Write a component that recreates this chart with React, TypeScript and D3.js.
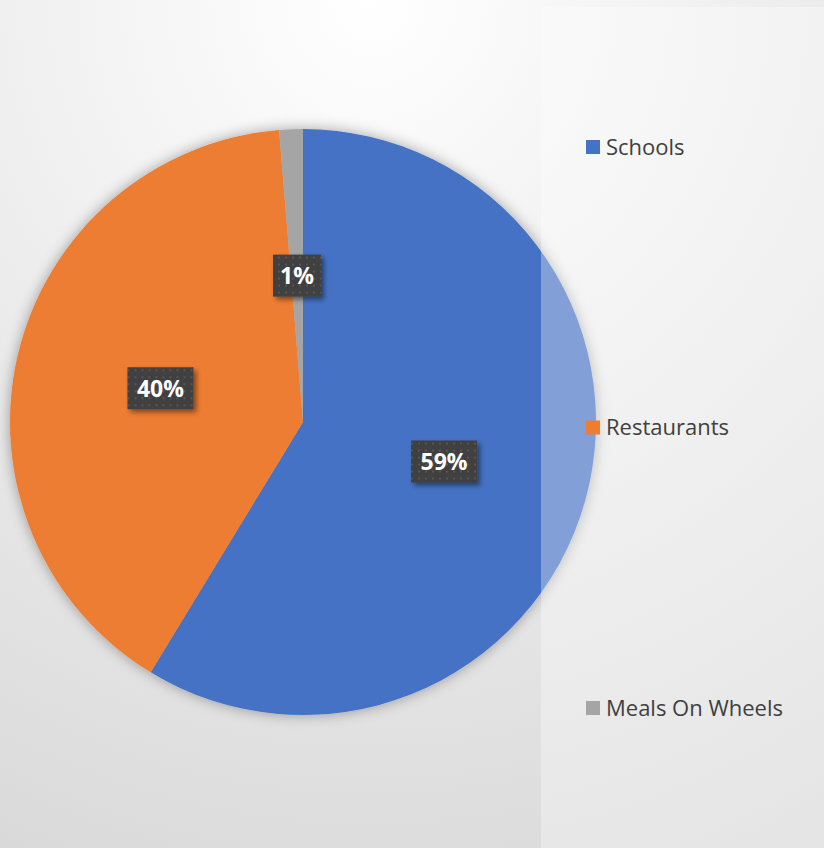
import React from "react";
import * as d3 from "d3";

const categories = ["Schools", "Restaurants", "Meals On Wheels"];
const values = [58.7, 40.0, 1.3];
const colors = ["#4472C4", "#ED7D31", "#A5A5A5"];

const W = 824;
const H = 848;
const cx = 303;
const cy = 422;
const R = 293;

export default function App() {
  const total = d3.sum(values);
  const pie = d3.pie<number>().sort(null).value((d) => d)(values);
  const arc = d3.arc<d3.PieArcDatum<number>>().innerRadius(0).outerRadius(R);
  const legendY = d3.scalePoint<string>().domain(categories).range([147, 708]);

  return (
    <svg width={W} height={H} style={{ position: "absolute", left: 0, top: 0 }}>
      <defs>
        <radialGradient id="bg" cx="45%" cy="0%" r="110%" fx="45%" fy="0%">
          <stop offset="0%" stopColor="#ffffff" />
          <stop offset="100%" stopColor="#d9d9d9" />
        </radialGradient>
        <filter id="pieShadow" x="-20%" y="-20%" width="140%" height="140%">
          <feDropShadow dx="0" dy="0" stdDeviation="7" floodColor="#000" floodOpacity="0.35" />
        </filter>
        <filter id="boxShadow" x="-30%" y="-30%" width="160%" height="160%">
          <feDropShadow dx="3" dy="3" stdDeviation="2.5" floodColor="#000" floodOpacity="0.45" />
        </filter>
        <pattern id="dots" width="7" height="7" patternUnits="userSpaceOnUse">
          <rect width="7" height="7" fill="#404040" />
          <rect x="2" y="2" width="2" height="2" fill="#555555" />
        </pattern>
      </defs>
      <rect width={W} height={H} fill="url(#bg)" />
      <g transform={`translate(${cx},${cy})`}>
        <g filter="url(#pieShadow)">
          {pie.map((p, i) => (
            <path key={i} d={arc(p) || ""} fill={colors[i]} />
          ))}
        </g>
      </g>
      <rect x={541} y={7} width={W - 541} height={H - 7} fill="#ffffff" opacity={0.33} />
      <g transform={`translate(${cx},${cy})`}>
        {pie.map((p, i) => {
          const [x, y] = arc.centroid(p);
          const label = `${Math.round((p.data / total) * 100)}%`;
          const bw = label.length === 2 ? 48 : 66;
          const bh = 42;
          return (
            <g key={i} transform={`translate(${x},${y})`}>
              <rect x={-bw / 2} y={-bh / 2} width={bw} height={bh} fill="url(#dots)" filter="url(#boxShadow)" />
              <text
                textAnchor="middle"
                dy="0.36em"
                fill="#ffffff"
                fontFamily="'Open Sans', 'Noto Sans', sans-serif"
                fontWeight={700}
                fontSize={23}
              >
                {label}
              </text>
            </g>
          );
        })}
      </g>
      {categories.map((c, i) => {
        const y = legendY(c) as number;
        return (
          <g key={c}>
            <rect x={586} y={y - 7} width={14} height={14} fill={colors[i]} />
            <text
              x={606}
              y={y}
              dy="0.35em"
              fill="#404040"
              fontFamily="'Open Sans', 'Noto Sans', sans-serif"
              fontSize={22}
            >
              {c}
            </text>
          </g>
        );
      })}
    </svg>
  );
}
